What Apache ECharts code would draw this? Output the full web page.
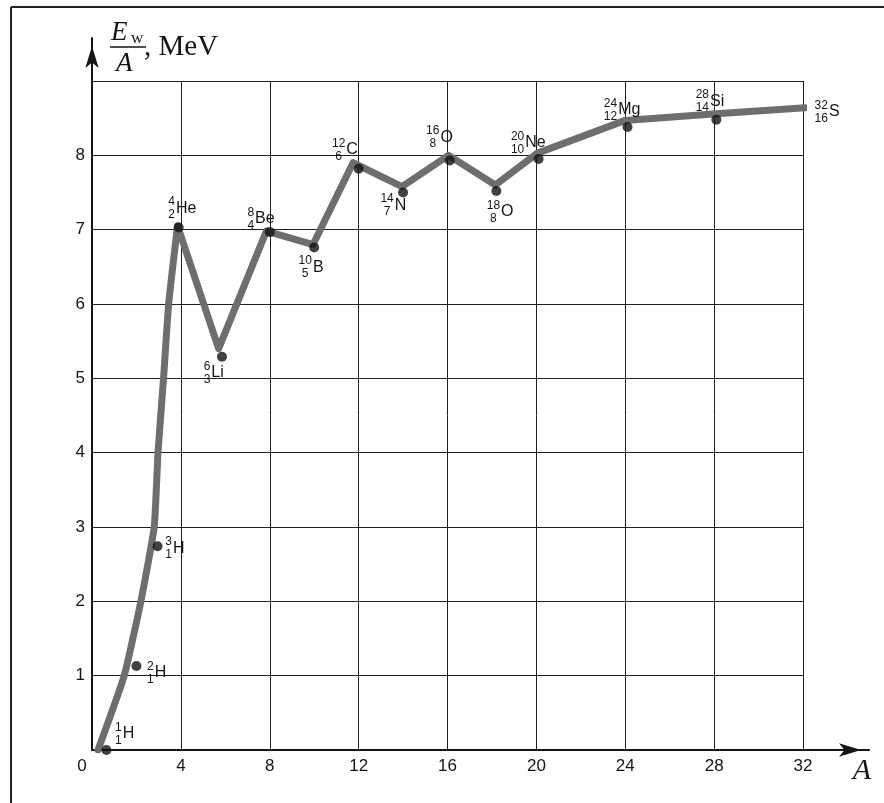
<!DOCTYPE html>
<html><head><meta charset="utf-8">
<script src="https://cdn.jsdelivr.net/npm/echarts@6/dist/echarts.min.js"></script>
<style>html,body{margin:0;padding:0;background:#fff}#c{width:884px;height:803px}</style>
</head><body><div id="c"></div>
<script>
// ---- data ----
const massNumbers   = ['1','2','3','4','6','8','10','12','14','16','18','20','24','28','32'];
const atomicNumbers = ['1','1','1','2','3','4','5','6','7','8','8','10','12','14','16'];
const symbols       = ['H','H','H','He','Li','Be','B','C','N','O','O','Ne','Mg','Si','S'];
const pointA = [0.65, 2.0, 2.95, 3.9, 5.85, 8, 10, 12, 14, 16.1, 18.2, 20.1, 24.1, 28.1, 32.1];
const pointE = [0, 1.13, 2.74, 7.03, 5.29, 6.97, 6.76, 7.82, 7.5, 7.93, 7.52, 7.95, 8.38, 8.48, 8.56];
// rising hand-drawn curve (light nuclei up to 4He)
const riseA = [0.27, 1.45, 2.2, 2.8, 2.97, 3.22, 3.45, 3.85];
const riseE = [0, 1, 2, 3, 4, 5, 6, 7.05];
// broken line from 4He onwards
const zigA = [3.85, 5.7, 7.85, 9.95, 11.75, 13.95, 16.05, 18.15, 20.05, 24.0, 28.1, 32.1];
const zigE = [7.05, 5.4, 6.98, 6.8, 7.9, 7.58, 8.0, 7.6, 8.03, 8.47, 8.56, 8.64];
const xTicks = [0, 4, 8, 12, 16, 20, 24, 28, 32];
const yTicks = [0, 1, 2, 3, 4, 5, 6, 7, 8, 9];

// ---- layout (label placement relative to each dot, px) ----
const labelOffsets = [[12,-16],[14,7],[11,2],[-7,-19],[-15,16],[-19,-13],[-9,20],[-20,-19],[-16,13],[-17,-23],[-3,21],[-21,-16],[-17,-17],[-14,-18],[16,-2]];

const chart = echarts.init(document.getElementById('c'));
const ink = '#151515';
const sans = '"Liberation Sans", Arial, sans-serif';
const serif = '"Liberation Serif", "Times New Roman", serif';
const curveStyle = {color: '#6e6e6e', width: 7, cap: 'round', join: 'round'};

const option = {
  animation: false,
  backgroundColor: '#fff',
  grid: [
    {left: 92, right: 81, top: 81, bottom: 53},
    {left: 92, right: 15, top: 38, bottom: 53}
  ],
  xAxis: [
    {type: 'value', gridIndex: 0, min: xTicks[0], max: xTicks[xTicks.length-1], interval: xTicks[1]-xTicks[0],
     axisLine: {show: false}, axisTick: {show: false},
     splitLine: {show: true, lineStyle: {color: '#1e1e1e', width: 1}},
     axisLabel: {fontFamily: sans, fontSize: 17, color: ink, margin: 8,
       formatter: v => v === 0 ? '{z|0}' : String(v),
       rich: {z: {fontFamily: sans, fontSize: 17, color: ink, padding: [0, 20, 0, 0]}}}},
    {type: 'value', gridIndex: 1, min: 0, max: 1,
     axisLine: {show: true, symbol: ['none', 'arrow'], symbolSize: [10, 22], symbolOffset: [0, -8], lineStyle: {color: ink, width: 2}},
     axisTick: {show: false}, axisLabel: {show: false}, splitLine: {show: false}}
  ],
  yAxis: [
    {type: 'value', gridIndex: 0, min: yTicks[0], max: yTicks[yTicks.length-1], interval: yTicks[1]-yTicks[0],
     axisLine: {show: false}, axisTick: {show: false},
     splitLine: {show: true, lineStyle: {color: '#1e1e1e', width: 1}},
     axisLabel: {fontFamily: sans, fontSize: 17, color: ink, margin: 7,
       formatter: v => (v === 0 || v === 9) ? '' : String(v)}},
    {type: 'value', gridIndex: 1, min: 0, max: 1,
     axisLine: {show: true, symbol: ['none', 'arrow'], symbolSize: [10, 22], symbolOffset: [0, -8], lineStyle: {color: ink, width: 2}},
     axisTick: {show: false}, axisLabel: {show: false}, splitLine: {show: false}}
  ],
  series: [
    {type: 'line', xAxisIndex: 0, yAxisIndex: 0, data: riseA.map((a, i) => [a, riseE[i]]),
     showSymbol: false, smooth: 0.15, z: 2, lineStyle: curveStyle},
    {type: 'line', xAxisIndex: 0, yAxisIndex: 0, data: zigA.map((a, i) => [a, zigE[i]]),
     showSymbol: false, smooth: false, z: 2, lineStyle: curveStyle},
    {type: 'scatter', xAxisIndex: 0, yAxisIndex: 0, data: pointA.map((a, i) => [a, pointE[i]]),
     symbol: 'circle', symbolSize: 10, itemStyle: {color: '#111'}, z: 3},
    {type: 'custom', xAxisIndex: 0, yAxisIndex: 0, clip: false, z: 4,
     data: pointA.map((a, i) => [a, pointE[i]]),
     renderItem: (params, api) => {
       const i = params.dataIndex;
       const p = api.coord([api.value(0), api.value(1)]);
       const o = labelOffsets[i];
       const cx = p[0] + o[0], cy = p[1] + o[1];
       const m = massNumbers[i], zz = atomicNumbers[i];
       const w = Math.max(m.length, zz.length) * 6.7;
       const small = '12px ' + sans;
       return {type: 'group', children: [
         {type: 'text', style: {text: m, x: cx, y: cy - 6.5, align: 'center', verticalAlign: 'middle', font: small, fill: ink}},
         {type: 'text', style: {text: zz, x: cx, y: cy + 6.5, align: 'center', verticalAlign: 'middle', font: small, fill: ink}},
         {type: 'text', style: {text: symbols[i], x: cx + w / 2 + 1, y: cy, align: 'left', verticalAlign: 'middle', font: '16px ' + sans, fill: ink}}
       ]};
     }}
  ],
  graphic: [
    {type: 'line', shape: {x1: 11, y1: 7, x2: 884, y2: 7}, style: {stroke: '#222', lineWidth: 2}},
    {type: 'line', shape: {x1: 11, y1: 7, x2: 11, y2: 803}, style: {stroke: '#222', lineWidth: 2}},
    {type: 'text', style: {text: 'E', x: 111, y: 33, verticalAlign: 'middle', font: 'italic 27px ' + serif, fill: ink}},
    {type: 'text', style: {text: 'w', x: 131, y: 39, verticalAlign: 'middle', font: '17px ' + serif, fill: ink}},
    {type: 'line', shape: {x1: 110, y1: 47, x2: 146, y2: 47}, style: {stroke: ink, lineWidth: 1.6}},
    {type: 'text', style: {text: 'A', x: 116, y: 64, verticalAlign: 'middle', font: 'italic 27px ' + serif, fill: ink}},
    {type: 'text', style: {text: ', MeV', x: 144, y: 47, verticalAlign: 'middle', font: '29px ' + serif, fill: ink}},
    {type: 'text', style: {text: 'A', x: 862, y: 771, align: 'center', verticalAlign: 'middle', font: 'italic 30px ' + serif, fill: ink}}
  ]
};
chart.setOption(option);
</script>
</body></html>
